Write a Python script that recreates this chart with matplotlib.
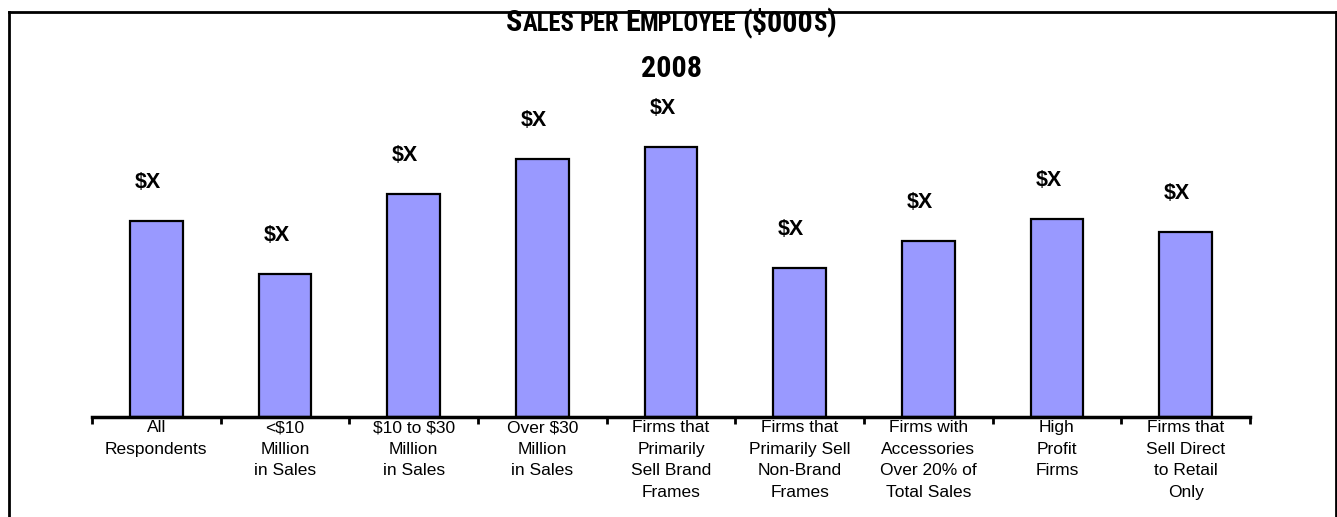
import numpy as np
import matplotlib
matplotlib.use("Agg")
import matplotlib.pyplot as plt
from matplotlib.lines import Line2D
from matplotlib import font_manager

plt.rcParams["text.parse_math"] = False

# chart data (bar heights, arbitrary units)
categories = ["All\nRespondents", "<$10\nMillion\nin Sales", "$10 to $30\nMillion\nin Sales",
              "Over $30\nMillion\nin Sales", "Firms that\nPrimarily\nSell Brand\nFrames",
              "Firms that\nPrimarily Sell\nNon-Brand\nFrames", "Firms with\nAccessories\nOver 20% of\nTotal Sales",
              "High\nProfit\nFirms", "Firms that\nSell Direct\nto Retail\nOnly"]
values = [196, 143, 223, 258, 270, 149, 176, 198, 185]
bar_labels = ["$X"] * len(values)
title_words = ["Sales", "per", "Employee", "($000s)"]
subtitle = "2008"

# pick a narrow font for the title if one is installed
narrow = None
for f in font_manager.fontManager.ttflist:
    if f.name in ("Liberation Sans Narrow", "Arial Narrow", "Roboto Condensed", "Open Sans Condensed"):
        narrow = dict(family=f.name)
        break
if narrow is None:
    for f in font_manager.fontManager.ttflist:
        if f.name == "DejaVu Sans" and "condensed" in str(f.stretch):
            narrow = dict(family="DejaVu Sans", stretch="condensed")
            break
if narrow is None:
    narrow = dict(family="Liberation Sans")

W, H = 1337, 517
fig = plt.figure(figsize=(W / 100, H / 100), dpi=100)
ax = fig.add_axes([92 / W, (H - 417) / H, (1250 - 92) / W, (417 - 60) / H])

x = np.arange(len(values))
ax.bar(x, values, width=0.41, color="#9999FF", edgecolor="black", linewidth=1.6, zorder=2)
for xi, v, lab in zip(x, values, bar_labels):
    ax.annotate(lab, (xi, v), xytext=(-6, 28), textcoords="offset points",
                ha="center", va="center", fontsize=15.5, fontweight="bold",
                family="Liberation Sans", clip_on=False)

ax.set_xlim(-0.5, len(values) - 0.5)
ax.set_ylim(0, 357)
for s in ["left", "right", "top"]:
    ax.spines[s].set_visible(False)
ax.spines["bottom"].set_linewidth(2.5)
ax.set_yticks([])
ax.set_xticks(x)
ax.set_xticklabels(categories, fontsize=12.5, family="Liberation Sans", linespacing=1.55)
ax.tick_params(axis="x", which="major", length=0, pad=2.2)
ax.set_xticks(np.arange(-0.5, len(values)), minor=True)
ax.tick_params(axis="x", which="minor", length=5, width=2)

# border around the chart
fig.add_artist(Line2D([9 / W, 9 / W], [0, 1 - 11.5 / H], color="black", lw=2))
fig.add_artist(Line2D([9 / W, 1335.5 / W], [1 - 11.5 / H, 1 - 11.5 / H], color="black", lw=2))
fig.add_artist(Line2D([1335.5 / W, 1335.5 / W], [1 - 11.5 / H, 0], color="black", lw=2))

# title in small caps: lowercase letters drawn as smaller capitals
big, small = 19, 15.5
renderer = fig.canvas.get_renderer()
pieces = []
for wi, word in enumerate(title_words):
    run, run_small = "", None
    for ch in word:
        is_small = ch.islower()
        if run and is_small != run_small:
            pieces.append((run.upper(), small if run_small else big))
            run = ""
        run += ch
        run_small = is_small
    pieces.append((run.upper(), small if run_small else big))
    if wi < len(title_words) - 1:
        pieces.append((None, small))


def measure(size):
    ws = []
    for txt, s in pieces:
        sz = s * size / big
        if txt is None:
            t = fig.text(0, 0, "A A", fontsize=sz, fontweight="bold", **narrow)
            t2 = fig.text(0, 0, "AA", fontsize=sz, fontweight="bold", **narrow)
            ws.append(t.get_window_extent(renderer).width - t2.get_window_extent(renderer).width)
            t.remove(); t2.remove()
        else:
            t = fig.text(0, 0, txt, fontsize=sz, fontweight="bold", **narrow)
            ws.append(t.get_window_extent(renderer).width)
            t.remove()
    return ws


# keep the title about as wide as in the reference
widths = measure(big)
big_s = big * 330 / sum(widths)
widths = measure(big_s)

total = sum(widths)
xpos = 671 - total / 2
base_y = 1 - 31 / H
for (txt, size), w in zip(pieces, widths):
    if txt is not None:
        fig.text(xpos / W, base_y, txt, fontsize=size * big_s / big, fontweight="bold",
                 va="baseline", ha="left", **narrow)
    xpos += w
fig.text(671 / W, 1 - 77 / H, subtitle, fontsize=big_s, fontweight="bold",
         va="baseline", ha="center", **narrow)

fig.savefig("out.png", dpi=100)
